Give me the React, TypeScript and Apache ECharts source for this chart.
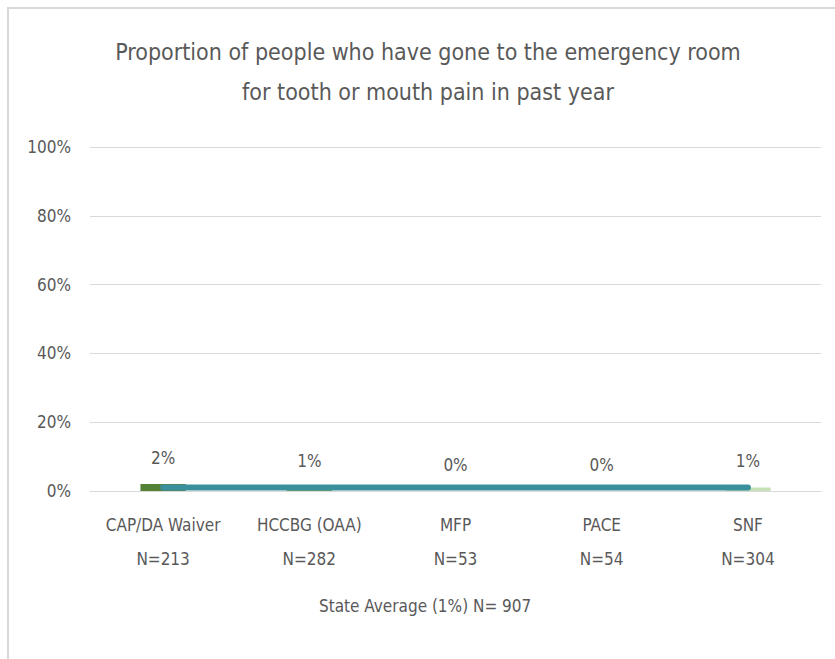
import React, { useEffect, useRef } from "react";
import * as echarts from "echarts";

const categories = ["CAP/DA Waiver\nN=213", "HCCBG (OAA)\nN=282", "MFP\nN=53", "PACE\nN=54", "SNF\nN=304"];
const barValues = [2, 1, 0, 0, 1];
const barColors = ["#548235", "#70AD47", "#A9D18E", "#A9D18E", "#C5E0B4"];
const averageName = "State Average (1%) N= 907";
const averageValues = [1, 1, 1, 1, 1];
const titleLines = [
  "Proportion of people who have gone to the emergency room",
  "for tooth or mouth pain in past year",
];

const FONT = "'Liberation Sans Narrow', 'DejaVu Sans Condensed', 'Open Sans', sans-serif";
const TXT = "#595959";

export default function App() {
  const ref = useRef<HTMLDivElement>(null);
  useEffect(() => {
    if (!ref.current) return;
    const chart = echarts.init(ref.current, null, { renderer: "svg" });
    chart.setOption({
      animation: false,
      backgroundColor: "#ffffff",
      textStyle: { fontFamily: FONT },
      graphic: [
        {
          type: "rect",
          shape: { x: 8, y: 8, width: 900, height: 900 },
          style: { fill: "none", stroke: "#d9d9d9", lineWidth: 2 },
          silent: true,
        },
        {
          type: "text",
          x: 428,
          y: 52,
          style: {
            text: titleLines[0],
            fontSize: 23,
            fontFamily: FONT,
            fill: TXT,
            textAlign: "center",
            textVerticalAlign: "middle",
          },
        },
        {
          type: "text",
          x: 428,
          y: 92,
          style: {
            text: titleLines[1],
            fontSize: 23,
            fontFamily: FONT,
            fill: TXT,
            textAlign: "center",
            textVerticalAlign: "middle",
          },
        },
      ],
      legend: {
        data: [averageName],
        icon: "none",
        itemWidth: 0,
        itemGap: 0,
        left: 309,
        top: 592,
        textStyle: { fontSize: 17, color: TXT, fontFamily: FONT },
      },
      grid: { left: 90, right: 14, top: 147, bottom: 168, containLabel: false },
      xAxis: {
        type: "category",
        data: categories,
        axisLine: { show: true, lineStyle: { color: "#d9d9d9", width: 1 } },
        axisTick: { show: false },
        axisLabel: {
          color: TXT,
          fontSize: 17,
          lineHeight: 34,
          margin: 17,
          fontFamily: FONT,
          interval: 0,
        },
      },
      yAxis: {
        type: "value",
        min: 0,
        max: 100,
        interval: 20,
        axisLine: { show: false },
        axisTick: { show: false },
        splitLine: { lineStyle: { color: "#d9d9d9", width: 1 } },
        axisLabel: {
          formatter: "{value}%",
          color: TXT,
          fontSize: 17,
          margin: 19,
          fontFamily: FONT,
        },
      },
      series: [
        {
          type: "bar",
          name: "values",
          data: barValues.map((v, i) => ({ value: v, itemStyle: { color: barColors[i] } })),
          barWidth: "31%",
          label: {
            show: true,
            position: "top",
            distance: 18,
            formatter: "{c}%",
            color: TXT,
            fontSize: 17,
            fontFamily: FONT,
          },
          z: 2,
        },
        {
          type: "line",
          name: averageName,
          data: averageValues,
          symbol: "none",
          lineStyle: { color: "#3A8F9C", width: 6, cap: "round" },
          itemStyle: { color: "#3A8F9C" },
          z: 3,
        },
      ],
    });
    return () => chart.dispose();
  }, []);
  return (
    <div
      ref={ref}
      style={{ position: "absolute", left: 0, top: 0, width: 835, height: 659 }}
    />
  );
}
